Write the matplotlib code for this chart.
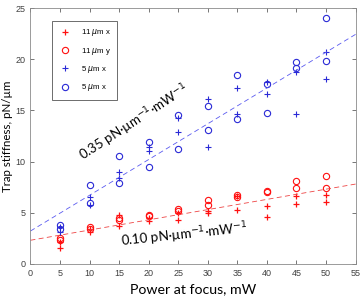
import numpy as np
import matplotlib
matplotlib.use("Agg")
import matplotlib.pyplot as plt

# power at focus, mW
power = [5, 10, 15, 20, 25, 30, 35, 40, 45, 50]

# trap stiffness, pN/um (two measurements per power)
k11x = [[2.1, 1.55], [3.4, 3.1], [4.8, 3.7], [4.5, 4.15], [5.0, 4.3],
        [5.2, 4.95], [6.6, 5.3], [5.7, 4.6], [6.6, 5.8], [6.75, 6.0]]
k11y = [[2.55, 2.3], [3.6, 3.4], [4.5, 4.3], [4.8, 4.65], [5.35, 5.2],
        [6.2, 5.75], [6.75, 6.5], [7.15, 7.05], [8.05, 7.4], [8.55, 7.4]]
k5x_a = [[3.6, 3.1], [6.5, 5.75], [9.0, 8.4], [11.4, 11.0], [14.3, 12.85],
         [16.1, 11.4], [17.2, 14.7], [17.8, 16.6], [18.8, 14.7], [20.7, 18.1]]
k5x_b = [[3.8, 3.45], [7.7, 5.9], [10.5, 7.9], [11.9, 9.5], [14.6, 11.25],
         [15.4, 13.1], [18.5, 14.2], [17.6, 14.8], [19.75, 19.2], [24.0, 19.8]]

labels = ['11 $\\mu$m x', '11 $\\mu$m y', '5 $\\mu$m x', '5 $\\mu$m x']

# linear fits (slope, intercept)
fit_5 = (0.35, 3.2)
fit_11 = (0.10, 2.3)

red = '#ff1010'
blue = '#2a2ad6'

fig = plt.figure(figsize=(3.64, 3.06), dpi=100)
ax = fig.add_axes([0.0835, 0.138, 0.8935, 0.835])

x = np.repeat(power, 2)
ax.plot(x, np.ravel(k11x), '+', color=red, mec=red, ms=5, mew=0.9, label=labels[0])
ax.plot(x, np.ravel(k11y), 'o', color=red, mec=red, mfc='none', ms=4.5, mew=0.8, label=labels[1])
ax.plot(x, np.ravel(k5x_a), '+', color=blue, mec=blue, ms=5, mew=0.8, label=labels[2])
ax.plot(x, np.ravel(k5x_b), 'o', color=blue, mec=blue, mfc='none', ms=4.5, mew=0.8, label=labels[3])

xl = np.array([0, 55])
ax.plot(xl, fit_5[0] * xl + fit_5[1], '--', color='#5a5af0', lw=0.6, dashes=(6, 4))
ax.plot(xl, fit_11[0] * xl + fit_11[1], '--', color='#ee4444', lw=0.6, dashes=(6, 4))

ax.text(17.6, 13.8, '0.35 pN·µm$^{-1}$·mW$^{-1}$', rotation=33, ha='center', va='center',
        fontsize=9.5, family='Lato')
ax.text(26.0, 2.8, '0.10 pN·µm$^{-1}$·mW$^{-1}$', rotation=6, ha='center', va='center',
        fontsize=9.5, family='Lato')

ax.set_xlim(0, 55)
ax.set_ylim(0, 25)
ax.set_xticks(range(0, 56, 5))
ax.set_yticks(range(0, 26, 5))
ax.tick_params(direction='in', top=True, right=True, labelsize=6.5, colors='#404040',
               length=3, width=0.5)
for lab in ax.get_xticklabels() + ax.get_yticklabels():
    lab.set_family('Liberation Sans')
for s in ax.spines.values():
    s.set_color('#8a8a8a')
    s.set_linewidth(0.6)

ax.set_xlabel('Power at focus, mW', fontsize=10.2, family='Lato', labelpad=4)
ax.set_ylabel('Trap stiffness, pN/µm', fontsize=8.3, family='Lato')
ax.yaxis.set_label_coords(-0.055, 0.5)

leg = ax.legend(loc='upper left', bbox_to_anchor=(0.055, 0.965),
                prop={'family': 'Liberation Sans', 'size': 5.6}, fancybox=False,
                edgecolor='#555555', framealpha=1, handletextpad=1.3, borderpad=0.8,
                labelspacing=0.95, handlelength=1.6)
leg.get_frame().set_linewidth(0.6)

fig.savefig('out.png', dpi=100)
